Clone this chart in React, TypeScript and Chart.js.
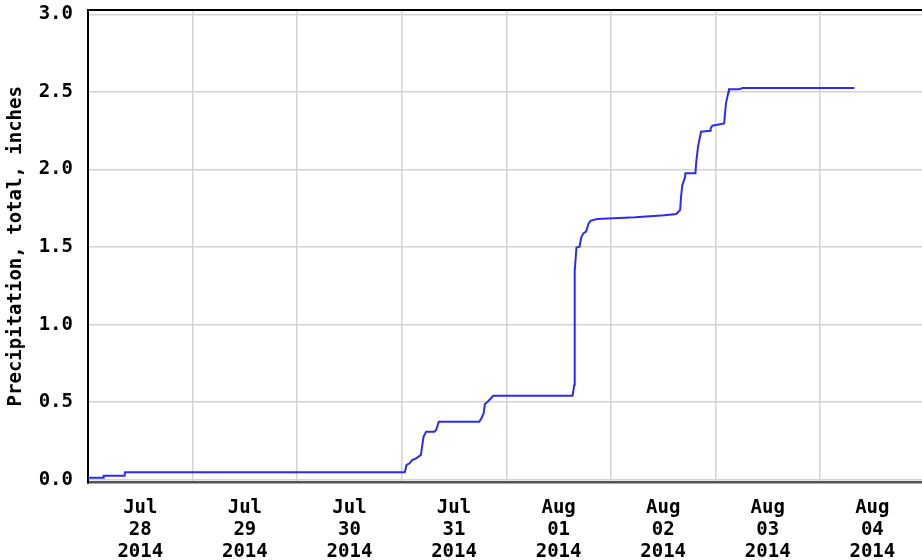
import React, { useEffect, useRef } from 'react';
import { Chart, registerables } from 'chart.js';

Chart.register(...registerables);

// hours since Jul 28 2014 00:00
const hours = [
  0, 3.5, 3.6, 8.4, 8.5, 72.7, 73.1, 73.8, 74.4, 75.3, 76.4, 77.0, 77.6, 79.5, 79.9, 80.5,
  89.8, 90.3, 90.8, 91.1, 91.7, 92.5, 93.0, 111.2, 111.6, 111.7, 112.1, 112.8, 113.2, 113.7,
  114.3, 114.9, 115.4, 116.9, 125.6, 132.3, 135.0, 135.9, 136.1, 136.4, 137.0, 137.1, 139.4,
  139.6, 140.0, 140.3, 140.7, 142.8, 142.9, 143.3, 146.0, 146.4, 147.0, 147.1, 149.5, 150.2, 175.9,
];
const precip = [
  0.013, 0.013, 0.026, 0.026, 0.048, 0.048, 0.095, 0.106, 0.127, 0.138, 0.159, 0.277, 0.309, 0.309, 0.32, 0.374,
  0.374, 0.396, 0.428, 0.488, 0.503, 0.525, 0.541, 0.541, 0.61, 1.347, 1.496, 1.502, 1.563, 1.588,
  1.599, 1.653, 1.67, 1.681, 1.691, 1.704, 1.713, 1.739, 1.824, 1.9, 1.947, 1.975, 1.975,
  2.05, 2.147, 2.19, 2.243, 2.25, 2.265, 2.282, 2.297, 2.426, 2.501, 2.517, 2.517, 2.525, 2.525,
];

const dayCenters = [12, 36, 60, 84, 108, 132, 156, 180];
const dayMonths = ['Jul', 'Jul', 'Jul', 'Jul', 'Aug', 'Aug', 'Aug', 'Aug'];
const dayNumbers = ['28', '29', '30', '31', '01', '02', '03', '04'];
const yearLabel = '2014';
const yTicks = [0, 0.5, 1.0, 1.5, 2.0, 2.5, 3.0];
const yTitle = 'Precipitation, total, inches';

const FONT = "'DejaVu Sans Mono', monospace";

export default function App() {
  const ref = useRef<HTMLCanvasElement>(null);

  useEffect(() => {
    if (!ref.current) return;
    const chart = new Chart(ref.current, {
      type: 'line',
      data: {
        datasets: [
          {
            data: hours.map((h, i) => ({ x: h, y: precip[i] })),
            borderColor: '#2a2aff',
            borderWidth: 2,
            pointRadius: 0,
            fill: false,
            tension: 0,
          },
        ],
      },
      options: {
        animation: false,
        responsive: false,
        layout: { padding: { top: 10, left: 0, right: 0, bottom: 0 } },
        plugins: { legend: { display: false }, tooltip: { enabled: false } },
        scales: {
          x: {
            type: 'linear',
            position: 'bottom',
            min: 0,
            max: 191.4,
            afterBuildTicks: (s: any) => {
              s.ticks = dayCenters.map((v) => ({ value: v }));
            },
            afterFit: (s: any) => {
              s.height = 77.5;
              s.paddingLeft = 0;
              s.paddingRight = 0;
            },
            grid: { offset: true, color: '#d3d3d3', lineWidth: 1.5, drawTicks: false },
            border: { color: '#555555', width: 2.5 },
            ticks: {
              autoSkip: false,
              maxRotation: 0,
              padding: 14,
              color: '#000',
              font: { family: FONT, size: 19, weight: 'bold', lineHeight: 1.17 },
              callback: (_v: any, i: number) => [dayMonths[i], dayNumbers[i], yearLabel],
            },
          },
          xTop: {
            type: 'linear',
            position: 'top',
            min: 0,
            max: 191.4,
            afterFit: (s: any) => {
              s.height = 0;
              s.paddingLeft = 0;
              s.paddingRight = 0;
            },
            grid: { display: false },
            border: { color: '#000', width: 2 },
            ticks: { display: false },
          },
          y: {
            type: 'linear',
            min: -0.018,
            max: 3.0277,
            afterBuildTicks: (s: any) => {
              s.ticks = yTicks.map((v) => ({ value: v }));
            },
            afterFit: (s: any) => {
              s.width = 88;
              s.paddingTop = 0;
              s.paddingBottom = 0;
            },
            grid: { color: '#d3d3d3', lineWidth: 1.5, drawTicks: false },
            border: { color: '#000', width: 2 },
            ticks: {
              padding: 15,
              color: '#000',
              font: { family: FONT, size: 19, weight: 'bold' },
              callback: (v: any) => Number(v).toFixed(1),
            },
            title: {
              display: true,
              text: yTitle,
              color: '#000',
              padding: { top: 6, bottom: 0 },
              font: { family: FONT, size: 19, weight: 'bold', lineHeight: 1.1 },
            },
          },
        },
      },
    } as any);
    return () => chart.destroy();
  }, []);

  return (
    <div style={{ position: 'absolute', left: 0, top: 0, width: 922, height: 560, background: '#fff' }}>
      <canvas ref={ref} width={922} height={560} style={{ display: 'block' }} />
    </div>
  );
}
